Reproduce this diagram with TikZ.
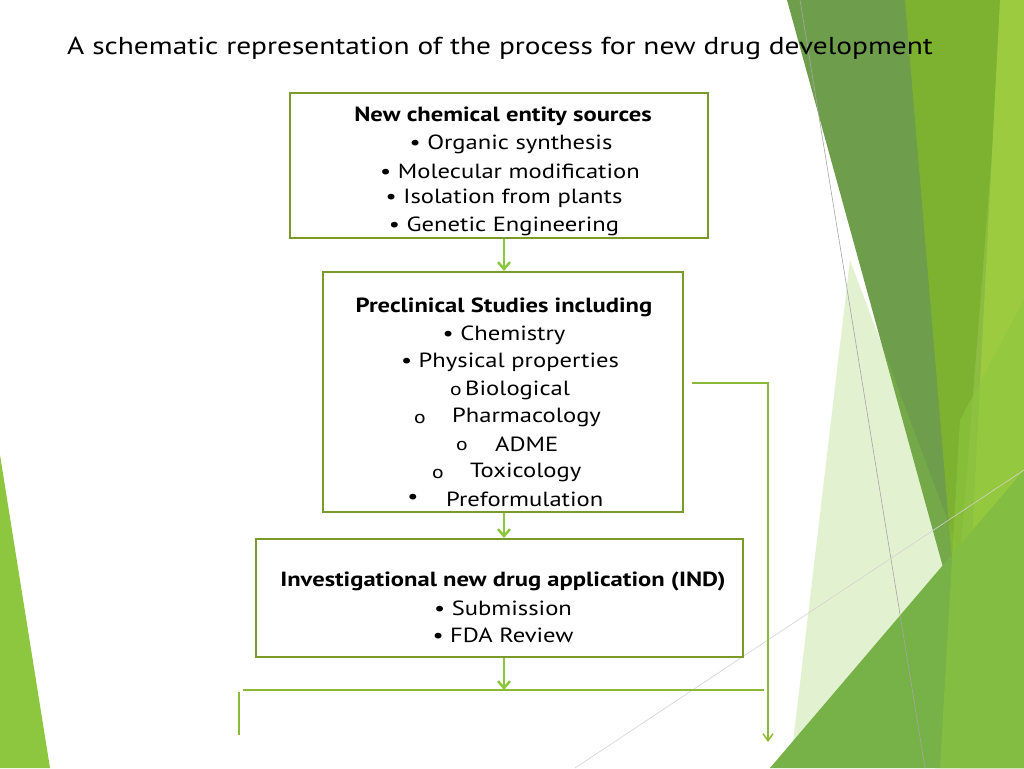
\documentclass[tikz,border=0pt]{standalone}
\usepackage{fontspec}
\setmainfont{PT Sans}[FakeStretch=1.2]
\usetikzlibrary{arrows.meta}
\definecolor{boxc}{HTML}{7A9A2A}
\definecolor{arrc}{HTML}{8DC63F}
\definecolor{dkg}{HTML}{6E9E4C}
\definecolor{mdg}{HTML}{7FB52E}
\definecolor{ltg}{HTML}{9CCB3F}
\definecolor{btg}{HTML}{76B247}
\begin{document}
\begin{tikzpicture}[x=1pt,y=-1pt,
  box/.style={draw=boxc,line width=2pt,inner sep=0pt},
  txt/.style={inner sep=0pt,font=\fontsize{20.5}{24}\selectfont},
  btxt/.style={txt,font=\fontsize{20.5}{24}\selectfont\bfseries},
  otxt/.style={inner sep=0pt,font=\fontsize{18}{20}\selectfont},
  arr/.style={draw=arrc,line width=2.5pt,-{Straight Barb[length=7pt,width=12pt]}},
  lin/.style={draw=arrc!85!olive,line width=1.5pt}]
\useasboundingbox (0,0) rectangle (1024,768);
% background decoration
\fill[dkg] (787,0) -- (1004,0) -- (960,560) -- (952,600) -- cycle;
\fill[mdg,opacity=0.9] (905,0) -- (1024,0) -- (1024,768) -- (935,768) -- (952,560) -- cycle;
\fill[ltg] (1000,0) -- (1024,0) -- (1024,768) -- (960,768) -- cycle;
\fill[arrc,opacity=0.25] (850,260) -- (985,620) -- (930,768) -- (790,768) -- cycle;
\fill[btg] (770,768) -- (1024,470) -- (1024,768) -- cycle;
\fill[arrc,opacity=0.6] (960,420) -- (1024,300) -- (1024,768) -- (940,768) -- cycle;
\fill[arrc] (0,455) -- (50,768) -- (0,768) -- cycle;
\draw[gray!70,line width=0.6pt] (800,0) -- (925,768);
\draw[gray!35,line width=0.6pt] (575,768) -- (1024,470);
% title
\node[txt,anchor=west,font=\fontsize{24.5}{28}\selectfont] (title) at (67,48) {A schematic representation of the process for new drug development};
% boxes
\node[box,minimum width=418pt,minimum height=145pt] (b1) at (499,165.5) {};
\node[box,minimum width=360pt,minimum height=240pt] (b2) at (503,392) {};
\node[box,minimum width=487pt,minimum height=118pt] (b3) at (499.5,598) {};
% box1 text
\node[btxt] (t11) at (503,116) {New chemical entity sources};
\node[txt] (t12) at (511,144) {• Organic synthesis};
\node[txt] (t13) at (510,171) {• Molecular modification};
\node[txt] (t14) at (504,198) {• Isolation from plants};
\node[txt] (t15) at (504,226) {• Genetic Engineering};
% box2 text
\node[btxt] (t21) at (504,307) {Preclinical Studies including};
\node[txt] (t22) at (504,335) {• Chemistry};
\node[txt] (t23) at (510,362) {• Physical properties};
\node[otxt] (o24) at (456,391) {o};
\node[txt,anchor=west] (t24) at (465,390) {Biological};
\node[otxt] (o25) at (420,419) {o};
\node[txt,anchor=west] (t25) at (452,417) {Pharmacology};
\node[otxt] (o26) at (462,446) {o};
\node[txt,anchor=west] (t26) at (495,444) {ADME};
\node[otxt] (o27) at (438,474) {o};
\node[txt,anchor=west] (t27) at (470,472) {Toxicology};
\node[txt] (o28) at (413,499) {•};
\node[txt,anchor=west] (t28) at (446,499) {Preformulation};
% box3 text
\node[btxt] (t31) at (503,581) {Investigational new drug application (IND)};
\node[txt] (t32) at (503,608) {• Submission};
\node[txt] (t33) at (503,635) {• FDA Review};
% connectors
\coordinate (hl) at (243,690);
\coordinate (hr) at (764,690);
\coordinate (h3) at (504,690);
\coordinate (vl) at (239,735);
\coordinate (vl0) at (239,692);
\coordinate (rs) at (692,383);
\coordinate (rc) at (768,383);
\coordinate (re) at (768,742);
\draw[arr] (b1.south-|h3) -- (b2.north-|h3);
\draw[arr] (b2.south-|h3) -- (b3.north-|h3);
\draw[arr] (b3.south-|h3) -- (h3);
\draw[lin] (hl) -- (hr);
\draw[lin] (vl0) -- (vl);
\draw[lin,-{Straight Barb[length=7pt,width=10pt]}] (rs) -- (rc) -- (re);
\end{tikzpicture}
\end{document}
